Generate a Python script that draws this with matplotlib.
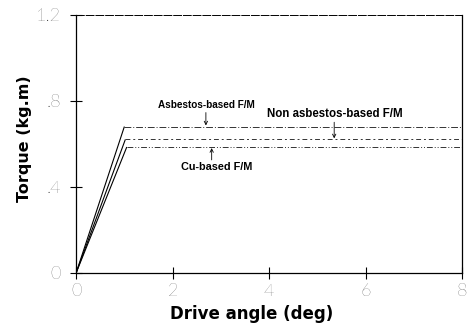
import matplotlib
matplotlib.use("Agg")
import matplotlib.pyplot as plt

# data
series_names = ["Asbestos-based F/M", "Non asbestos-based F/M", "Cu-based F/M"]
ramp_end_angle = [1.0, 1.02, 1.05]
plateau_torque = [0.68, 0.62, 0.585]
max_angle = 8.0
x_ticks = [0, 2, 4, 6, 8]
y_ticks = [0, 0.4, 0.8, 1.2]
y_tick_labels = ["0", ".4", ".8", "1.2"]

fig = plt.figure(figsize=(4.7, 3.26), dpi=100)
ax = fig.add_axes([0.162, 0.163, 0.821, 0.792])

dash_styles = [(0, (7, 2, 1, 2)), (0, (5, 3, 2, 3)), (0, (6, 2, 1, 2, 1, 2))]
for xe, v, ds in zip(ramp_end_angle, plateau_torque, dash_styles):
    ax.plot([0, xe], [0, v], color="black", lw=0.8, solid_capstyle="butt")
    ax.plot([xe, max_angle], [v, v], color="#333333", lw=0.7, linestyle=ds)

ax.set_xlim(0, 8)
ax.set_ylim(0, 1.2)
ax.set_xticks(x_ticks)
ax.set_xticklabels([str(t) for t in x_ticks])
ax.set_yticks(y_ticks)
ax.set_yticklabels(y_tick_labels)
ax.tick_params(direction="inout", length=8, width=0.8, labelsize=13,
               labelcolor="#262626")
ax.tick_params(axis="x", pad=3)
ax.tick_params(axis="y", pad=7)
for lab in ax.get_xticklabels() + ax.get_yticklabels():
    lab.set_fontfamily(["Lato", "DejaVu Sans"])
    lab.set_fontweight("light")

for s in ax.spines.values():
    s.set_linewidth(0.9)
ax.spines["top"].set_linestyle((0, (8, 2)))
ax.spines["top"].set_linewidth(0.7)

ax.set_xlabel("Drive angle (deg)", fontsize=12, fontweight="bold",
              family=["DejaVu Sans"])
ax.xaxis.set_label_coords(0.456, -0.125)
ax.set_ylabel("Torque (kg.m)", fontsize=11.5, fontweight="bold",
              family=["DejaVu Sans"])
ax.yaxis.set_label_coords(-0.115, 0.52)

afont = dict(fontweight="bold",
             family=["Liberation Sans Narrow", "Liberation Sans", "DejaVu Sans"],
             ha="center", va="center")
arrow = dict(arrowstyle="->", lw=0.6, color="black", shrinkA=0, shrinkB=0,
             mutation_scale=6)

ax.text(2.69, 0.782, series_names[0], fontsize=7.2, **afont)
ax.annotate("", xy=(2.69, plateau_torque[0] + 0.005), xytext=(2.69, 0.745),
            arrowprops=arrow)
ax.text(5.37, 0.738, series_names[1], fontsize=8.3, **afont)
ax.annotate("", xy=(5.35, plateau_torque[1] + 0.005), xytext=(5.35, 0.70),
            arrowprops=arrow)
ax.text(2.92, 0.49, series_names[2], fontsize=7.8, **afont)
ax.annotate("", xy=(2.81, plateau_torque[2] - 0.005), xytext=(2.81, 0.525),
            arrowprops=arrow)

fig.savefig("out.png", dpi=100)
